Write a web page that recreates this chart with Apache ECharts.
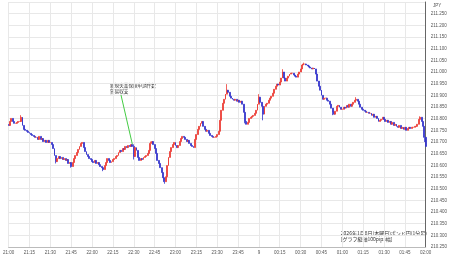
<!DOCTYPE html>
<html><head><meta charset="utf-8">
<script src="https://cdn.jsdelivr.net/npm/echarts@6/dist/echarts.min.js"></script>
<style>html,body{margin:0;padding:0;background:#fff}#c{width:450px;height:258px}</style>
</head><body><div id="c"></div>
<script>
// 1-minute closes, 21:00 -> 02:00 (GBP/JPY, 2026-01-08)
const closes = [
210.771,210.788,210.801,210.788,210.780,210.780,210.784,210.788,210.788,210.806,
210.771,210.754,210.750,210.746,210.741,210.737,210.732,210.728,210.724,210.720,
210.720,210.711,210.724,210.711,210.715,210.702,210.707,210.698,210.707,210.698,
210.698,210.689,210.672,210.642,210.616,210.629,210.638,210.629,210.634,210.625,
210.629,210.621,210.625,210.608,210.612,210.595,210.612,210.629,210.642,210.655,
210.668,210.681,210.694,210.698,210.676,210.659,210.646,210.638,210.629,210.625,
210.616,210.612,210.621,210.608,210.612,210.603,210.595,210.590,210.582,210.599,
210.612,210.629,210.621,210.612,210.616,210.625,210.629,210.638,210.642,210.655,
210.664,210.659,210.672,210.668,210.681,210.676,210.685,210.681,210.689,210.681,
210.638,210.676,210.664,210.634,210.621,210.629,210.625,210.634,210.638,210.642,
210.651,210.664,210.694,210.702,210.689,210.672,210.651,210.621,210.608,210.590,
210.569,210.547,210.530,210.551,210.599,210.634,210.659,210.676,210.689,210.698,
210.685,210.676,210.685,210.702,210.715,210.724,210.720,210.711,210.702,210.707,
210.694,210.685,210.681,210.676,210.711,210.732,210.754,210.767,210.780,210.788,
210.767,210.754,210.746,210.750,210.737,210.728,210.724,210.720,210.720,210.724,
210.732,210.746,210.793,210.836,210.866,210.883,210.905,210.922,210.913,210.896,
210.888,210.883,210.879,210.883,210.875,210.879,210.870,210.875,210.862,210.827,
210.788,210.776,210.784,210.801,210.806,210.810,210.814,210.823,210.836,210.862,
210.892,210.870,210.853,210.819,210.853,210.862,210.866,210.879,210.888,210.896,
210.909,210.926,210.939,210.948,210.944,210.957,210.974,211.000,210.974,210.961,
210.974,210.982,210.991,210.995,210.995,210.987,210.982,210.978,210.991,211.000,
211.013,211.030,211.034,211.034,211.030,211.026,211.021,211.017,211.013,211.017,
211.013,210.991,210.961,210.939,210.922,210.900,210.883,210.888,210.888,210.879,
210.875,210.862,210.845,210.827,210.819,210.832,210.853,210.857,210.849,210.840,
210.840,210.849,210.845,210.857,210.849,210.862,210.853,210.862,210.870,210.879,
210.883,210.875,210.862,210.849,210.840,210.836,210.832,210.827,210.827,210.823,
210.823,210.814,210.819,210.806,210.810,210.801,210.788,210.793,210.797,210.806,
210.797,210.788,210.793,210.784,210.788,210.776,210.784,210.771,210.776,210.767,
210.763,210.771,210.758,210.763,210.754,210.763,210.750,210.758,210.763,210.758,
210.763,210.763,210.767,210.767,210.776,210.797,210.806,210.788,210.767,210.720,
210.681
];
const firstOpen = 210.775;
// notable wicks (minute index -> price)
const wickHigh = {9:210.815, 90:210.690, 102:210.702, 157:210.948, 180:210.905, 197:211.012, 212:211.040, 225:210.910, 250:210.892, 296:210.810};
const wickLow  = {34:210.608, 45:210.590, 68:210.575, 90:210.625, 112:210.521, 170:210.780, 183:210.793, 233:210.815, 299:210.700};
const yMin = 210.25, yMax = 211.30, yStep = 0.05;
const annotationLines = ['新規失業保険申請件数', '貿易収支'];
const annotationTime = '22:29', annotationPrice = 210.690;
const footerLines = ['2026年1月8日(木曜日)ポンド円(1分足)', '[グラフ縦軸100pips幅]'];
const currencyLabel = 'JPY';

const cats = [];
for (let i = 0; i < closes.length; i++) {
  const m = (21 * 60 + i) % 1440;
  cats.push(String(Math.floor(m / 60)).padStart(2, '0') + ':' + String(m % 60).padStart(2, '0'));
}
const ohlc = closes.map((c, i) => {
  const o = i === 0 ? firstOpen : closes[i - 1];
  let lo = Math.min(o, c), hi = Math.max(o, c);
  if (wickHigh[i] !== undefined) hi = Math.max(hi, wickHigh[i]);
  if (wickLow[i] !== undefined) lo = Math.min(lo, wickLow[i]);
  return [o, c, lo, hi];
});
const every15 = (idx) => idx % 15 === 0;

const chart = echarts.init(document.getElementById('c'), null, {renderer: 'canvas'});
chart.setOption({
  animation: false,
  backgroundColor: '#fff',
  grid: {left: 1, right: 22, top: 2, bottom: 11, containLabel: false},
  xAxis: {
    type: 'category', data: cats, boundaryGap: false,
    axisLine: {lineStyle: {color: '#bbb', width: 1}},
    axisTick: {show: false},
    axisLabel: {interval: (i) => every15(i), fontSize: 4.5, color: '#555', margin: 3,
      formatter: (v) => v === '00:00' ? '9' : v},
    splitLine: {show: true, interval: (i) => every15(i), lineStyle: {color: '#e8e8e8', width: 1}}
  },
  yAxis: {
    type: 'value', position: 'right', min: yMin, max: yMax, interval: yStep, scale: true,
    axisLine: {show: true, lineStyle: {color: '#666', width: 1}},
    axisTick: {show: false},
    axisLabel: {fontSize: 4.5, color: '#555', margin: 5, showMaxLabel: false,
      formatter: (v) => v.toFixed(3)},
    splitLine: {show: true, lineStyle: {color: '#e8e8e8', width: 1}}
  },
  series: [{
    type: 'candlestick', data: ohlc, barWidth: 1.4,
    itemStyle: {color: '#ec3b34', color0: '#3333cc', borderColor: '#ec3b34', borderColor0: '#3333cc', borderWidth: 0.8},
    markLine: {
      silent: true, symbol: ['none', 'none'], animation: false,
      label: {show: false},
      lineStyle: {color: '#44cc44', width: 1, type: 'solid'},
      data: [[{x: 121, y: 95}, {coord: [annotationTime, annotationPrice]}]]
    }
  }],
  graphic: [
    {type: 'text', left: 110, top: 82, style: {text: annotationLines.join('\n'), fontSize: 4.6, lineHeight: 6, fill: '#333', fontFamily: 'Noto Sans CJK JP'}},
    {type: 'rect', shape: {x: 344, y: 230, width: 83, height: 16}, style: {fill: '#fff'}},
    {type: 'text', right: 23, top: 230.5, style: {text: footerLines.join('\n'), fontSize: 5, lineHeight: 6, fill: '#333', align: 'right', fontFamily: 'Noto Sans CJK JP'}},
    {type: 'text', left: 433, top: 3, style: {text: currencyLabel, fontSize: 4.5, fill: '#555'}}
  ]
});
</script></body></html>
